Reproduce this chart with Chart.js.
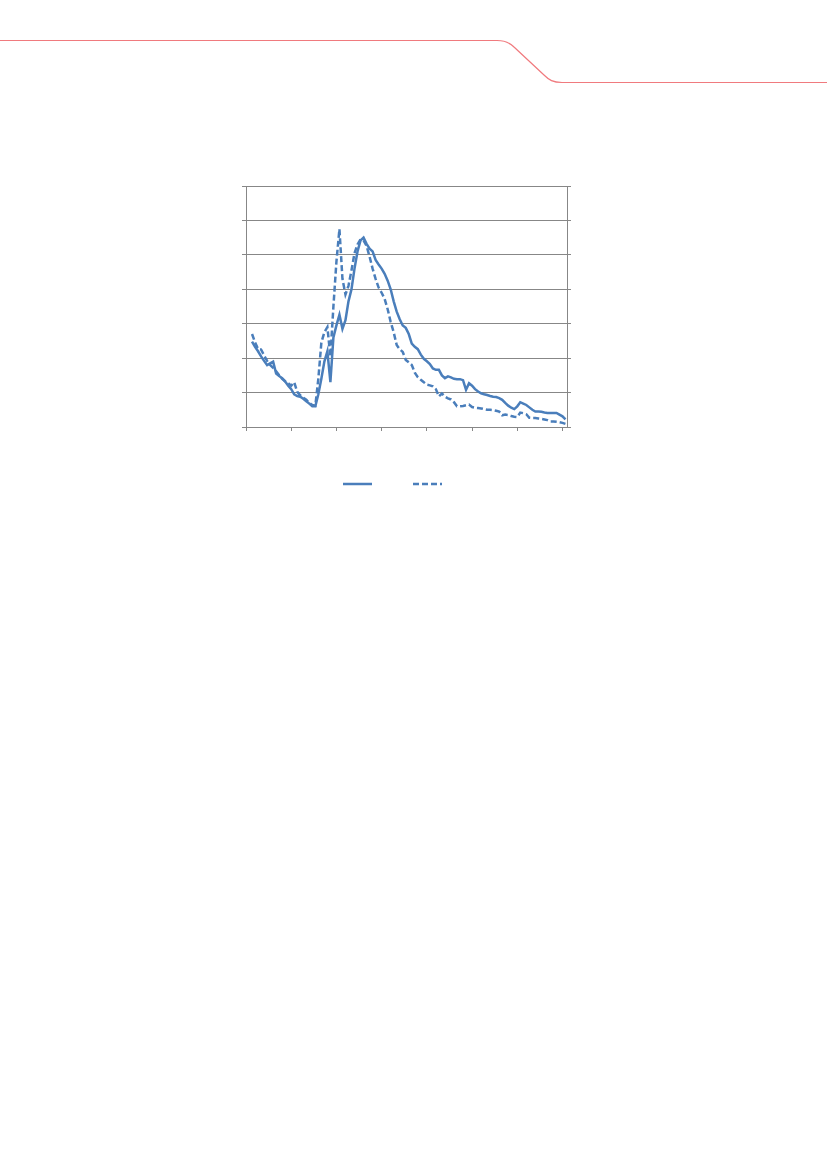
<!DOCTYPE html>
<html>
<head>
<meta charset="utf-8">
<script src="https://cdn.jsdelivr.net/npm/chart.js@4/dist/chart.umd.min.js"></script>
<style>
  html, body { margin: 0; padding: 0; background: #fff; }
  body { width: 827px; height: 1170px; position: relative; overflow: hidden; }
  #header { position: absolute; left: 0; top: 0; }
  #wrap { position: absolute; left: 214px; top: 181px; width: 363px; height: 319px; }
</style>
</head>
<body>

<svg id="header" width="827" height="100">
  <path d="M0,40.5 H497 C506,40.5 510,43 514,47 L544,75 C549,80 553,82.5 562,82.5 H827"
        fill="none" stroke="#f07a7e" stroke-width="1.2"/>
</svg>

<div id="wrap"><canvas id="chart"></canvas></div>

<script>
// periods along the x axis (no labels shown in the picture)
const periods = [
  2, 3, 4, 5, 6, 7, 8, 9, 10, 11,
  12, 13, 14, 15, 16, 17, 18, 19, 20, 21,
  22, 23, 24, 25, 26, 27, 28, 29, 30, 31,
  32, 33, 34, 35, 36, 37, 38, 39, 40, 41,
  42, 43, 44, 45, 46, 47, 48, 49, 50, 51,
  52, 53, 54, 55, 56, 57, 58, 59, 60, 61,
  62, 63, 64, 65, 66, 67, 68, 69, 70, 71,
  72, 73, 74, 75, 76, 77, 78, 79, 80, 81,
  82, 83, 84, 85, 86, 87, 88, 89, 90, 91,
  92, 93, 94, 95, 96, 97, 98, 99, 100, 101,
  102, 103, 104, 105, 106
];

// solid series
const solidValues = [
  2.48, 2.33, 2.2, 2.05, 1.92, 1.8, 1.85, 1.9, 1.55, 1.48,
  1.42, 1.32, 1.2, 1.1, 0.95, 0.9, 0.88, 0.82, 0.75, 0.68,
  0.6, 0.6, 0.95, 1.4, 1.9, 2.2, 1.3, 2.6, 2.95, 3.26,
  2.85, 3.1, 3.65, 4.0, 4.6, 5.1, 5.42, 5.5, 5.32, 5.18,
  5.1, 4.85, 4.72, 4.6, 4.45, 4.25, 4.0, 3.65, 3.35, 3.13,
  2.95, 2.88, 2.7, 2.42, 2.33, 2.26, 2.1, 1.98, 1.91, 1.83,
  1.7, 1.66, 1.66, 1.5, 1.42, 1.47, 1.44, 1.4, 1.39, 1.39,
  1.36, 1.08, 1.27, 1.2, 1.1, 1.03, 0.98, 0.95, 0.93, 0.9,
  0.88, 0.87, 0.84, 0.79, 0.7, 0.62, 0.56, 0.52, 0.6, 0.72,
  0.68, 0.64, 0.57, 0.5, 0.45, 0.45, 0.44, 0.42, 0.41, 0.41,
  0.41, 0.41, 0.36, 0.31, 0.22
];

// dashed series
const dashedValues = [
  2.7, 2.46, 2.27, 2.25, 2.08, 1.92, 1.8, 1.72, 1.62, 1.5,
  1.4, 1.33, 1.27, 1.2, 1.3, 1.02, 0.92, 0.85, 0.79, 0.7,
  0.64, 0.62, 1.4, 2.45, 2.75, 2.9, 2.05, 3.5, 4.8, 5.75,
  4.3, 3.85, 4.1, 4.55, 5.05, 5.3, 5.45, 5.42, 5.26, 4.95,
  4.6, 4.3, 4.05, 3.9, 3.72, 3.42, 3.05, 2.75, 2.38, 2.26,
  2.18, 1.95, 1.88, 1.8, 1.58, 1.45, 1.37, 1.3, 1.23, 1.21,
  1.18, 1.1, 0.89, 0.97, 0.88, 0.83, 0.8, 0.72, 0.6, 0.6,
  0.61, 0.63, 0.65, 0.58, 0.56, 0.55, 0.54, 0.52, 0.5, 0.5,
  0.49, 0.47, 0.45, 0.34, 0.36, 0.35, 0.32, 0.3, 0.29, 0.42,
  0.4, 0.37, 0.27, 0.26, 0.26, 0.25, 0.24, 0.22, 0.2, 0.16,
  0.16, 0.15, 0.14, 0.12, 0.09
];

const xMax = 106.5;
const xStep = 15;
const yMax = 7;

const lineColor = "#4a7ebb";
const gridColor = "#878787";

const toPoints = vals => vals.map((v, i) => ({ x: periods[i], y: v }));

new Chart(document.getElementById("chart"), {
  type: "line",
  data: {
    datasets: [
      {
        label: "",
        data: toPoints(solidValues),
        borderColor: lineColor,
        backgroundColor: lineColor,
        borderWidth: 2.5,
        pointRadius: 0,
        tension: 0,
        pointStyle: "line"
      },
      {
        label: "",
        data: toPoints(dashedValues),
        borderColor: lineColor,
        backgroundColor: lineColor,
        borderWidth: 2.5,
        borderDash: [6, 3],
        pointRadius: 0,
        tension: 0,
        pointStyle: "line"
      }
    ]
  },
  options: {
    responsive: true,
    maintainAspectRatio: false,
    animation: false,
    layout: { padding: { top: 5, left: 0, right: 0, bottom: 0 } },
    plugins: {
      tooltip: { enabled: false },
      legend: {
        position: "bottom",
        labels: {
          usePointStyle: true,
          pointStyleWidth: 29,
          padding: 35,
          font: { size: 12, family: "Liberation Sans" },
          // point style items lose the dash, so copy it from the dataset
          generateLabels: chart => {
            const items = Chart.defaults.plugins.legend.labels.generateLabels(chart);
            items.forEach(it => {
              const ds = chart.data.datasets[it.datasetIndex];
              it.lineDash = ds.borderDash || [];
              it.lineWidth = ds.borderWidth;
              it.strokeStyle = ds.borderColor;
            });
            return items;
          }
        }
      }
    },
    scales: {
      x: {
        type: "linear",
        min: 0,
        max: xMax,
        ticks: { display: false, stepSize: xStep, includeBounds: false },
        grid: { drawOnChartArea: false, drawTicks: true, tickLength: 4, color: gridColor },
        border: { display: true, color: gridColor },
        afterFit: s => { s.height = 16; }
      },
      y: {
        min: 0,
        max: yMax,
        ticks: { display: false, stepSize: 1 },
        grid: { color: gridColor, drawTicks: true, tickLength: 4 },
        border: { display: true, color: gridColor },
        afterFit: s => { s.width = 32; }
      },
      y2: {
        position: "right",
        min: 0,
        max: yMax,
        ticks: { display: false, stepSize: 1 },
        grid: { drawOnChartArea: false, drawTicks: true, tickLength: 4, color: gridColor },
        border: { display: true, color: gridColor },
        afterFit: s => { s.width = 10; }
      }
    }
  }
});
</script>
</body>
</html>
